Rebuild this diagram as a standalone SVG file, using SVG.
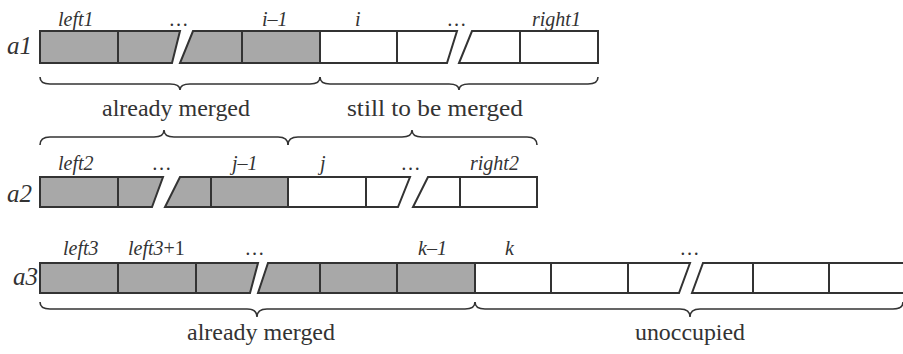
<svg xmlns="http://www.w3.org/2000/svg" width="903" height="354" viewBox="0 0 903 354" font-family="Liberation Serif, Times New Roman, serif">
  <style>
    .gray { fill: #a8a8a8; stroke: none; }
    .outline { fill: none; stroke: #333; stroke-width: 2; }
    .div { stroke: #333; stroke-width: 2; }
    .brace { fill: none; stroke: #333; stroke-width: 1.6; }
    .idx { font-style: italic; font-size: 20px; fill: #333; }
    .name { font-style: italic; font-size: 25px; fill: #333; }
    .note { font-size: 24px; text-anchor: middle; fill: #333; }
  </style>
  <rect width="903" height="354" fill="#fff"/>

  <!-- array a1 -->
  <g id="a1" font-family="Liberation Serif">
    <text class="name" x="7" y="54">a1</text>
    <polygon class="gray" points="40,31 180,31 172,63 40,63"/>
    <polygon class="gray" points="193,31 320,31 320,63 180,63"/>
    <polygon class="outline" points="40,31 180,31 172,63 40,63"/>
    <polygon class="outline" points="193,31 457,31 447,63 180,63"/>
    <polygon class="outline" points="472,31 598,31 598,63 459,63"/>
    <line class="div" x1="118" y1="31" x2="118" y2="63"/>
    <line class="div" x1="242" y1="31" x2="242" y2="63"/>
    <line class="div" x1="320" y1="31" x2="320" y2="63"/>
    <line class="div" x1="397" y1="31" x2="397" y2="63"/>
    <line class="div" x1="520" y1="31" x2="520" y2="63"/>
    <text class="idx" x="58" y="26">left1</text>
    <text class="idx" x="170" y="26">…</text>
    <text class="idx" x="262" y="26">i–1</text>
    <text class="idx" x="355" y="26">i</text>
    <text class="idx" x="448" y="26">…</text>
    <text class="idx" x="532" y="26">right1</text>
  </g>

  <!-- array a2 -->
  <g id="a2" font-family="Liberation Serif">
    <text class="name" x="7" y="202">a2</text>
    <polygon class="gray" points="40,177 163,177 152,207 40,207"/>
    <polygon class="gray" points="180,177 288,177 288,207 165,207"/>
    <polygon class="outline" points="40,177 163,177 152,207 40,207"/>
    <polygon class="outline" points="180,177 410,177 398,207 165,207"/>
    <polygon class="outline" points="428,177 537,177 537,207 413,207"/>
    <line class="div" x1="118" y1="177" x2="118" y2="207"/>
    <line class="div" x1="211" y1="177" x2="211" y2="207"/>
    <line class="div" x1="288" y1="177" x2="288" y2="207"/>
    <line class="div" x1="366" y1="177" x2="366" y2="207"/>
    <line class="div" x1="460" y1="177" x2="460" y2="207"/>
    <text class="idx" x="58" y="170">left2</text>
    <text class="idx" x="153" y="170">…</text>
    <text class="idx" x="232" y="170">j–1</text>
    <text class="idx" x="320" y="170">j</text>
    <text class="idx" x="402" y="170">…</text>
    <text class="idx" x="470" y="170">right2</text>
  </g>

  <!-- array a3 -->
  <g id="a3" font-family="Liberation Serif">
    <text class="name" x="13" y="285">a3</text>
    <polygon class="gray" points="40,263 258,263 250,293 40,293"/>
    <polygon class="gray" points="268,263 475,263 475,293 258,293"/>
    <polygon class="outline" points="40,263 258,263 250,293 40,293"/>
    <polygon class="outline" points="268,263 690,263 679,293 258,293"/>
    <polyline class="outline" points="910,263 703,263 692,293 910,293"/>
    <line class="div" x1="118" y1="263" x2="118" y2="293"/>
    <line class="div" x1="196" y1="263" x2="196" y2="293"/>
    <line class="div" x1="320" y1="263" x2="320" y2="293"/>
    <line class="div" x1="397" y1="263" x2="397" y2="293"/>
    <line class="div" x1="475" y1="263" x2="475" y2="293"/>
    <line class="div" x1="551" y1="263" x2="551" y2="293"/>
    <line class="div" x1="628" y1="263" x2="628" y2="293"/>
    <line class="div" x1="753" y1="263" x2="753" y2="293"/>
    <line class="div" x1="829" y1="263" x2="829" y2="293"/>
    <text class="idx" x="63" y="255">left3</text>
    <text class="idx" x="128" y="255">left3<tspan font-style="normal">+1</tspan></text>
    <text class="idx" x="246" y="255">…</text>
    <text class="idx" x="418" y="255">k–1</text>
    <text class="idx" x="505" y="255">k</text>
    <text class="idx" x="681" y="255">…</text>
  </g>

  <!-- braces and their captions -->
  <g id="braces" font-family="Liberation Serif">
    <path class="brace" d="M40,77 Q40,84 50,84 L170,84 Q180,84 180,90 Q180,84 190,84 L310,84 Q320,84 320,77"/>
    <path class="brace" d="M320,77 Q320,84 330,84 L449,84 Q459,84 459,90 Q459,84 469,84 L588,84 Q598,84 598,77"/>
    <text class="note" x="176" y="116" textLength="148" lengthAdjust="spacingAndGlyphs">already merged</text>
    <text class="note" x="435" y="116" textLength="176" lengthAdjust="spacingAndGlyphs">still to be merged</text>

    <path class="brace" d="M40,145 Q40,137 50,137 L154,137 Q164,137 164,130 Q164,137 174,137 L278,137 Q288,137 288,145"/>
    <path class="brace" d="M288,145 Q288,137 298,137 L402,137 Q412,137 412,130 Q412,137 422,137 L527,137 Q537,137 537,145"/>

    <path class="brace" d="M40,302 Q40,309 50,309 L247,309 Q257,309 257,317 Q257,309 267,309 L465,309 Q475,309 475,302"/>
    <path class="brace" d="M475,302 Q475,309 485,309 L680,309 Q690,309 690,317 Q690,309 700,309 L893,309 Q903,309 903,302"/>
    <text class="note" x="261" y="340" textLength="148" lengthAdjust="spacingAndGlyphs">already merged</text>
    <text class="note" x="690" y="340" textLength="110" lengthAdjust="spacingAndGlyphs">unoccupied</text>
  </g>
</svg>
